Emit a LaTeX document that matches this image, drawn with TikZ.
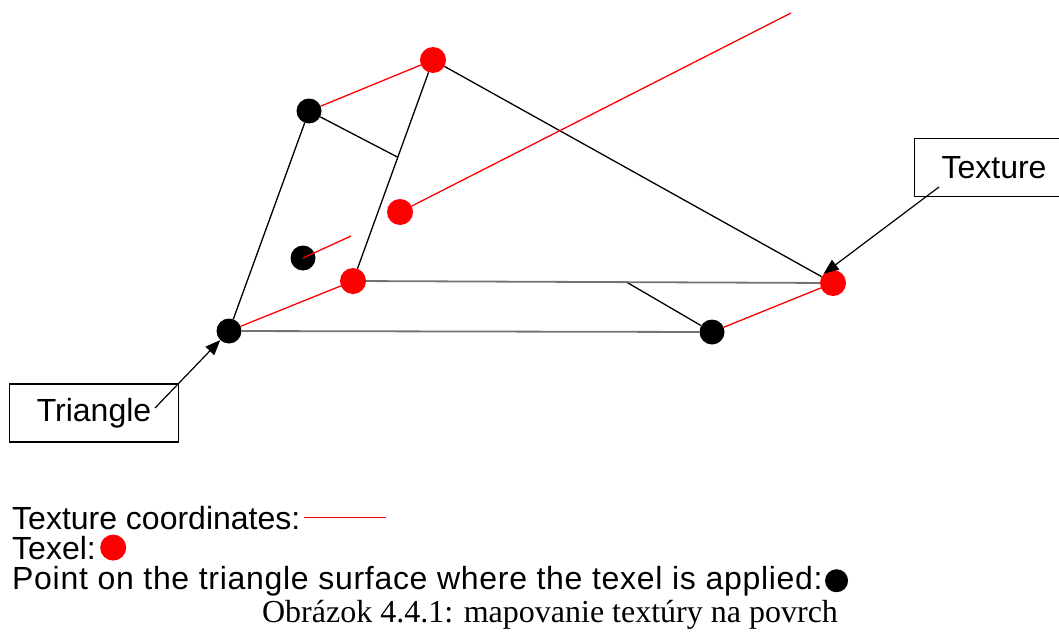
\documentclass[tikz,border=0pt]{standalone}
\usepackage{fontspec}
\setmainfont{Liberation Sans}
\newfontfamily\captionserif{Liberation Serif}
\usetikzlibrary{arrows.meta, positioning, calc}

\begin{document}
\begin{tikzpicture}[x=1pt, y=-1pt,
    texel/.style={circle, fill=red, inner sep=0pt, minimum size=26pt},
    surfpt/.style={circle, fill=black, inner sep=0pt, minimum size=25pt},
    edge/.style={draw=black, line width=1.3pt},
    flat/.style={draw=black!55, line width=1.8pt},
    tcoord/.style={draw=red, line width=1.3pt},
    lbox/.style={draw, line width=1.2pt, inner xsep=27pt, minimum height=58pt,
                 font=\fontsize{32}{38}\selectfont},
    legend/.style={anchor=base west, inner sep=0pt, font=\fontsize{32}{38}\selectfont},
    arr/.style={-{Triangle[length=15pt, width=12pt]}, line width=1.2pt}
  ]
  \useasboundingbox (0,0) rectangle (1059,642);

  % texels and the points where they land
  \node[texel]  (r1) at (433,60)  {};
  \node[texel]  (r2) at (353,281) {};
  \node[texel]  (r3) at (833,283) {};
  \node[texel]  (r4) at (400,212) {};
  \node[surfpt] (a)  at (229,331) {};
  \node[surfpt] (b)  at (309,111) {};
  \node[surfpt] (c)  at (712,332) {};
  \node[surfpt] (d)  at (303,258) {};

  \coordinate (footL) at ($(r1)!0.44!(r2)$);
  \coordinate (footR) at ($(r2)!0.57!(r3)$);
  \coordinate (dEnd)  at (351,236);
  \coordinate (rEnd)  at (791,13);

  % triangle and texture edges
  \draw[edge] (a) -- (b);
  \draw[edge] (r1) -- (r2);
  \draw[edge] (r1) -- (r3);
  \draw[edge] (b) -- (footL);
  \draw[edge] (footR) -- (c);
  \draw[flat] (a) -- (c);
  \draw[flat] (r2) -- (r3);

  % texture coordinates
  \draw[tcoord] (b) -- (r1);
  \draw[tcoord] (a) -- (r2);
  \draw[tcoord] (c) -- (r3);
  \draw[tcoord] (d.center) -- (dEnd);
  \draw[tcoord] (r4) -- (rEnd);

  % labels
  \node[lbox] (tri) at (94,413)   {Triangle};
  \node[lbox] (tex) at (994,167.5) {Texture};
  \coordinate (triTail) at (155,408);
  \coordinate (texTail) at (939,187);
  \draw[arr] (triTail) -- (a);
  \draw[arr] (texTail) -- (r3.north west);

  % legend
  \node[legend] (lgCoord) at (12,529) {Texture coordinates:};
  \draw[tcoord] ([xshift=3pt]lgCoord.east) -- ++(82,0);
  \node[legend] (lgTexel) at (12,559) {Texel:};
  \node[texel, right=4pt of lgTexel] (lgRed) {};
  \node[legend] (lgPoint) at (12,589)
        {\addfontfeature{LetterSpace=2.2}Point on the triangle surface where the texel is applied:};
  \node[surfpt, minimum size=23pt, right=2pt of lgPoint] (lgBlack) {};
  \node[anchor=base, font=\captionserif\fontsize{32}{38}\selectfont] (caption) at (550,622)
        {Obrázok 4.4.1: mapovanie textúry na povrch};
\end{tikzpicture}
\end{document}
